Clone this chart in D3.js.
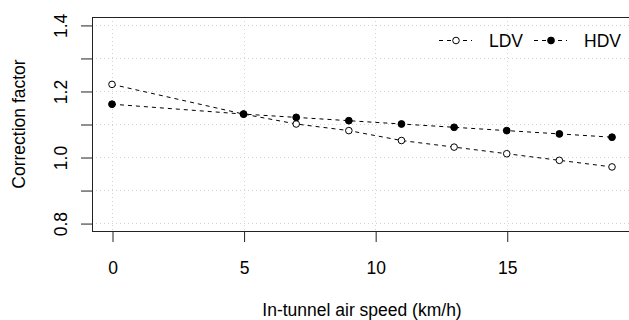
<!DOCTYPE html>
<html>
<head>
<meta charset="utf-8">
<script src="https://cdn.jsdelivr.net/npm/d3@7"></script>
<style>
  html, body { margin: 0; padding: 0; background: #fff; }
  svg { display: block; }
  text { font-family: "Liberation Sans", Arial, Helvetica, sans-serif; fill: #000; }
</style>
</head>
<body>
<svg id="chart" width="629" height="320"></svg>
<script>
// ---- data ----
const speeds = [0, 5, 7, 9, 11, 13, 15, 17, 19];
const ldv = [1.22, 1.13, 1.10, 1.08, 1.05, 1.03, 1.01, 0.99, 0.97];
const hdv = [1.16, 1.13, 1.12, 1.11, 1.10, 1.09, 1.08, 1.07, 1.06];
const seriesNames = ["LDV", "HDV"];
const xTicks = [0, 5, 10, 15];
const yTicks = [0.8, 0.9, 1.0, 1.1, 1.2, 1.3, 1.4];
const yTickLabels = ["0.8", "", "1.0", "", "1.2", "", "1.4"];
const xTitle = "In-tunnel air speed (km/h)";
const yTitle = "Correction factor";

const pLeft = 92, pRight = 632, pTop = 17, pBottom = 231;
const fs = 17.5;

const svg = d3.select("#chart");

// R-style 4% padding
const xPad = (19 - 0) * 0.04, yPad = (1.4 - 0.8) * 0.04;
const x = d3.scaleLinear().domain([0 - xPad, 19 + xPad]).range([pLeft, pRight]);
const y = d3.scaleLinear().domain([0.8 - yPad, 1.4 + yPad]).range([pBottom, pTop]);

// grid
const grid = svg.append("g").attr("stroke", "#d3d3d3").attr("stroke-dasharray", "1,3").attr("stroke-width", 1);
grid.selectAll("line.v").data(xTicks).enter().append("line")
  .attr("x1", d => Math.round(x(d)) + 0.5).attr("x2", d => Math.round(x(d)) + 0.5)
  .attr("y1", pTop).attr("y2", pBottom);
grid.selectAll("line.h").data(yTicks).enter().append("line")
  .attr("y1", d => Math.round(y(d)) + 0.5).attr("y2", d => Math.round(y(d)) + 0.5)
  .attr("x1", pLeft).attr("x2", pRight);

// axes
const xAxis = d3.axisBottom(x).tickValues(xTicks).tickSize(11).tickFormat(d3.format("d"));
const gx = svg.append("g").attr("transform", `translate(0.5,${pBottom})`).call(xAxis);
gx.select(".domain").remove();
gx.selectAll("line").attr("stroke", "#222");
gx.selectAll("text").attr("font-size", fs).attr("font-family", "Liberation Sans, Arial, sans-serif")
  .attr("dy", null).attr("y", 42.5);

const yAxis = d3.axisLeft(y).tickValues(yTicks).tickSize(11).tickFormat((d, i) => yTickLabels[i]);
const gy = svg.append("g").attr("transform", `translate(${pLeft},0.5)`).call(yAxis);
gy.select(".domain").remove();
gy.selectAll("line").attr("stroke", "#222");
gy.selectAll("text").attr("font-size", fs).attr("font-family", "Liberation Sans, Arial, sans-serif")
  .attr("x", null).attr("dy", null)
  .attr("text-anchor", "middle")
  .attr("transform", "translate(-25,0) rotate(-90)");

// box
svg.append("rect").attr("x", pLeft + 0.5).attr("y", pTop + 0.5)
  .attr("width", pRight - pLeft).attr("height", pBottom - pTop)
  .attr("fill", "none").attr("stroke", "#222").attr("stroke-width", 1);

// lines + points
const line = d3.line().x(d => x(d[0])).y(d => y(d[1]));
const series = [
  { name: seriesNames[0], vals: ldv, fill: "#fff" },
  { name: seriesNames[1], vals: hdv, fill: "#000" }
];
series.forEach(s => {
  const pts = speeds.map((v, i) => [v, s.vals[i]]);
  svg.append("path").datum(pts).attr("d", line)
    .attr("fill", "none").attr("stroke", "#000").attr("stroke-width", 1).attr("stroke-dasharray", "4,4");
});
series.forEach(s => {
  const pts = speeds.map((v, i) => [v, s.vals[i]]);
  svg.append("g").selectAll("circle").data(pts).enter().append("circle")
    .attr("cx", d => x(d[0])).attr("cy", d => y(d[1]))
    .attr("r", s.fill === "#fff" ? 3.3 : 3.4)
    .attr("fill", s.fill).attr("stroke", "#000").attr("stroke-width", 1);
});

// legend
const legX = [439, 534], legY = 40.5;
series.forEach((s, i) => {
  const g = svg.append("g");
  g.append("line").attr("x1", legX[i]).attr("x2", legX[i] + 33).attr("y1", legY).attr("y2", legY)
    .attr("stroke", "#000").attr("stroke-dasharray", "4,4");
  g.append("circle").attr("cx", legX[i] + 17).attr("cy", legY).attr("r", s.fill === "#fff" ? 3.3 : 3.4)
    .attr("fill", s.fill).attr("stroke", "#000");
  g.append("text").attr("x", legX[i] + 50).attr("y", legY + 6.5).attr("font-size", fs).text(s.name);
});

// titles
svg.append("text").attr("x", 362).attr("y", 315.5).attr("text-anchor", "middle")
  .attr("font-size", fs).text(xTitle);
svg.append("text").attr("transform", `translate(25,${(pTop + pBottom) / 2}) rotate(-90)`)
  .attr("text-anchor", "middle").attr("font-size", fs).text(yTitle);
</script>
</body>
</html>
